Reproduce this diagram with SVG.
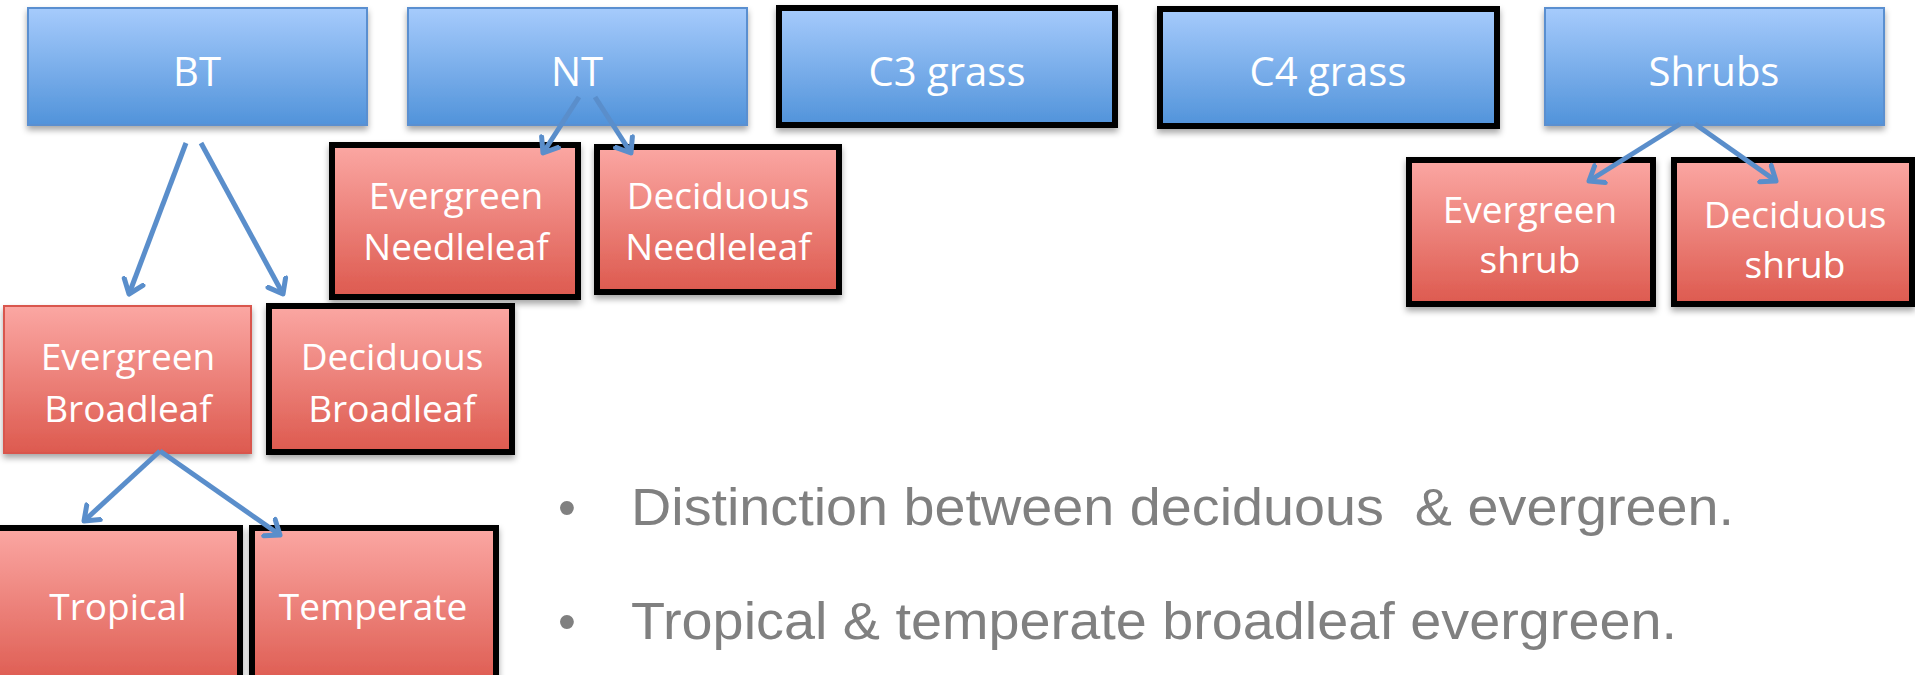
<svg xmlns="http://www.w3.org/2000/svg" width="1915" height="675" viewBox="0 0 1915 675">
<defs>
<linearGradient id="gb" x1="0" y1="0" x2="0" y2="1"><stop offset="0" stop-color="#a6cbfc"/><stop offset="1" stop-color="#5193da"/></linearGradient>
<linearGradient id="gr" x1="0" y1="0" x2="0" y2="1"><stop offset="0" stop-color="#fba7a3"/><stop offset="1" stop-color="#dd5a4f"/></linearGradient>
<filter id="sh" x="-10%" y="-10%" width="120%" height="130%"><feDropShadow dx="0" dy="4" stdDeviation="3" flood-color="#000" flood-opacity="0.35"/></filter>
<marker id="ah" markerUnits="userSpaceOnUse" markerWidth="30" markerHeight="30" refX="15" refY="15" orient="auto" viewBox="0 0 30 30"><polyline points="2,5 15,15 2,25" fill="none" stroke="#5a8ecb" stroke-width="5" stroke-linecap="round" stroke-linejoin="round"/></marker>
<style>
.blue{fill:url(#gb);stroke:#5a8fd0;stroke-width:2;filter:url(#sh)}
.red{fill:url(#gr);stroke:#d9574d;stroke-width:2;filter:url(#sh)}
.blk{stroke:#000;stroke-width:6}
.t{font-family:"Open Sans","Noto Sans",sans-serif;fill:#fff;text-anchor:middle}
.t1{font-size:40px}
.t2{font-size:37px}
.c{fill:none;stroke:#5a8ecb;stroke-width:5;marker-end:url(#ah)}
.b{font-family:"Liberation Sans",Arial,sans-serif;font-size:51px;fill:#808080;white-space:pre}
</style>
</defs>
<g id="bt"><rect class="blue" x="28" y="8" width="339" height="117"/><text class="t t1" x="197" y="86">BT</text></g>
<g id="nt"><rect class="blue" x="408" y="8" width="339" height="117"/><text class="t t1" x="577" y="86">NT</text></g>
<g id="c3"><rect class="blue blk" x="779" y="8" width="336" height="117"/><text class="t t1" x="947" y="86">C3 grass</text></g>
<g id="c4"><rect class="blue blk" x="1160" y="9" width="337" height="117"/><text class="t t1" x="1328" y="86">C4 grass</text></g>
<g id="shrubs"><rect class="blue" x="1545" y="8" width="339" height="117"/><text class="t t1" x="1714" y="86">Shrubs</text></g>
<g id="evneedle"><rect class="red blk" x="332" y="145" width="246" height="152"/><text class="t t2" x="456" y="209">Evergreen</text><text class="t t2" x="456" y="260">Needleleaf</text></g>
<g id="decneedle"><rect class="red blk" x="597" y="147" width="242" height="145"/><text class="t t2" x="718" y="209">Deciduous</text><text class="t t2" x="718" y="260">Needleleaf</text></g>
<g id="evshrub"><rect class="red blk" x="1409" y="160" width="244" height="144"/><text class="t t2" x="1530" y="223">Evergreen</text><text class="t t2" x="1530" y="273">shrub</text></g>
<g id="decshrub"><rect class="red blk" x="1674" y="160" width="238" height="144"/><text class="t t2" x="1795" y="228">Deciduous</text><text class="t t2" x="1795" y="278">shrub</text></g>
<g id="evbroad"><rect class="red" x="4" y="306" width="247" height="147"/><text class="t t2" x="128" y="370">Evergreen</text><text class="t t2" x="128" y="422">Broadleaf</text></g>
<g id="decbroad"><rect class="red blk" x="269" y="306" width="243" height="146"/><text class="t t2" x="392" y="370">Deciduous</text><text class="t t2" x="392" y="422">Broadleaf</text></g>
<g id="tropical"><rect class="red blk" x="-5" y="528" width="245" height="160"/><text class="t t2" x="118" y="620">Tropical</text></g>
<g id="temperate"><rect class="red blk" x="252" y="528" width="244" height="160"/><text class="t t2" x="373" y="620">Temperate</text></g>
<g id="connectors">
<line class="c" x1="186" y1="143" x2="129" y2="294"/>
<line class="c" x1="201" y1="143" x2="283" y2="294"/>
<line class="c" x1="579" y1="97" x2="543" y2="153"/>
<line class="c" x1="595" y1="97" x2="631" y2="153"/>
<line class="c" x1="1680" y1="124" x2="1589" y2="181"/>
<line class="c" x1="1695" y1="124" x2="1776" y2="181"/>
<line class="c" x1="160" y1="451" x2="84" y2="521"/>
<line class="c" x1="160" y1="451" x2="280" y2="535"/>
</g>
<g id="bullets">
<text class="b" x="558" y="525">•</text>
<text class="b" x="631" y="525" xml:space="preserve" textLength="1103" lengthAdjust="spacingAndGlyphs">Distinction between deciduous  &amp; evergreen.</text>
<text class="b" x="558" y="639">•</text>
<text class="b" x="631" y="639" textLength="1046" lengthAdjust="spacingAndGlyphs">Tropical &amp; temperate broadleaf evergreen.</text>
</g>
</svg>
